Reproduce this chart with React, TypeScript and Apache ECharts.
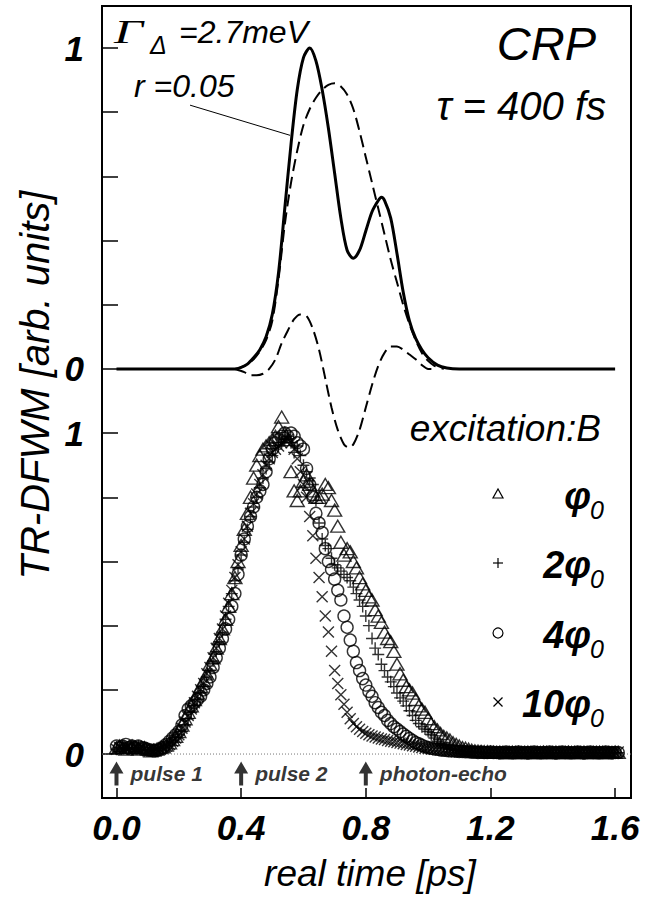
import React, { useEffect, useRef } from "react";
import * as echarts from "echarts";

// ---------- data ----------
// sampling grid of the measured traces (ps)
const T_START = 0.0;
const T_STEP = 0.01;

// measured TR-DFWM traces (bottom panel), one value per grid time
const PHI_1 = [
  0.02, 0.025, 0.02, 0.015, 0.02, 0.025, 0.02, 0.015, 0.02, 0.02,
  0.015, 0.01, 0.012, 0.015, 0.02, 0.022, 0.028, 0.035, 0.045, 0.055,
  0.07, 0.09, 0.11, 0.13, 0.15, 0.17, 0.19, 0.21, 0.23, 0.25,
  0.28, 0.3, 0.33, 0.36, 0.39, 0.42, 0.46, 0.5, 0.55, 0.6,
  0.65, 0.7, 0.75, 0.8, 0.86, 0.9, 0.93, 0.95, 0.96, 0.97,
  0.98, 0.99, 1.02, 1.05, 1.0, 0.98, 0.88, 0.82, 0.79, 0.82,
  0.85, 0.87, 0.84, 0.82, 0.8, 0.8, 0.81, 0.84, 0.83, 0.79,
  0.76, 0.71, 0.66, 0.62, 0.64, 0.63, 0.6, 0.58, 0.55, 0.53,
  0.51, 0.49, 0.48, 0.45, 0.43, 0.41, 0.38, 0.36, 0.35, 0.32,
  0.28, 0.25, 0.23, 0.21, 0.2, 0.19, 0.17, 0.15, 0.14, 0.13,
  0.11, 0.095, 0.085, 0.075, 0.064, 0.055, 0.05, 0.044, 0.035, 0.03,
  0.025, 0.02, 0.018, 0.015, 0.012, 0.01, 0.009, 0.008, 0.007, 0.007,
  0.006, 0.006, 0.005, 0.006, 0.005, 0.004, 0.005, 0.006, 0.005, 0.005,
  0.004, 0.005, 0.006, 0.005, 0.004, 0.005, 0.005, 0.006, 0.005, 0.004,
  0.005, 0.006, 0.005, 0.004, 0.005, 0.006, 0.005, 0.005, 0.004, 0.005,
  0.006, 0.005, 0.004, 0.005, 0.005, 0.006, 0.005, 0.004, 0.005, 0.005,
  0.006, 0.005,
];
const PHI_2 = [
  0.015, 0.02, 0.025, 0.02, 0.015, 0.02, 0.02, 0.025, 0.015, 0.02,
  0.012, 0.01, 0.015, 0.012, 0.018, 0.02, 0.025, 0.03, 0.04, 0.05,
  0.06, 0.07, 0.09, 0.11, 0.13, 0.15, 0.17, 0.19, 0.21, 0.24,
  0.26, 0.29, 0.32, 0.35, 0.38, 0.42, 0.46, 0.5, 0.54, 0.58,
  0.62, 0.66, 0.7, 0.74, 0.77, 0.8, 0.83, 0.86, 0.89, 0.91,
  0.93, 0.95, 0.96, 0.97, 0.98, 0.99, 0.97, 0.94, 0.96, 0.93,
  0.9, 0.88, 0.86, 0.84, 0.79, 0.72, 0.67, 0.65, 0.64, 0.61,
  0.59, 0.58, 0.57, 0.56, 0.55, 0.54, 0.52, 0.5, 0.48, 0.46,
  0.43, 0.4, 0.36, 0.33, 0.31, 0.28, 0.26, 0.24, 0.225, 0.21,
  0.19, 0.175, 0.165, 0.15, 0.135, 0.12, 0.105, 0.095, 0.085, 0.078,
  0.07, 0.06, 0.05, 0.04, 0.032, 0.025, 0.02, 0.016, 0.013, 0.011,
  0.009, 0.008, 0.007, 0.007, 0.006, 0.006, 0.005, 0.006, 0.005, 0.005,
  0.005, 0.004, 0.005, 0.006, 0.005, 0.004, 0.005, 0.005, 0.006, 0.005,
  0.005, 0.004, 0.005, 0.006, 0.005, 0.005, 0.004, 0.005, 0.006, 0.005,
  0.004, 0.005, 0.005, 0.006, 0.005, 0.004, 0.005, 0.005, 0.006, 0.005,
  0.005, 0.004, 0.005, 0.006, 0.005, 0.005, 0.004, 0.005, 0.006, 0.005,
  0.005, 0.004,
];
const PHI_4 = [
  0.025, 0.02, 0.025, 0.03, 0.02, 0.025, 0.02, 0.025, 0.02, 0.018,
  0.015, 0.012, 0.01, 0.012, 0.015, 0.02, 0.03, 0.04, 0.05, 0.06,
  0.07, 0.09, 0.12, 0.14, 0.15, 0.16, 0.17, 0.18, 0.2, 0.22,
  0.24, 0.27, 0.3, 0.33, 0.36, 0.39, 0.42, 0.46, 0.5, 0.56,
  0.62, 0.67, 0.71, 0.74, 0.77, 0.8, 0.82, 0.84, 0.88, 0.92,
  0.95, 0.97, 0.98, 0.99, 1.0, 0.99, 1.0, 0.99, 0.97, 0.96,
  0.95, 0.89, 0.84, 0.8, 0.75, 0.72, 0.69, 0.64, 0.6, 0.575,
  0.545, 0.51, 0.48, 0.43, 0.395, 0.355, 0.32, 0.285, 0.26, 0.235,
  0.215, 0.195, 0.18, 0.16, 0.145, 0.13, 0.12, 0.105, 0.095, 0.085,
  0.078, 0.07, 0.062, 0.055, 0.048, 0.042, 0.036, 0.032, 0.027, 0.023,
  0.02, 0.018, 0.016, 0.015, 0.013, 0.012, 0.011, 0.01, 0.01, 0.009,
  0.008, 0.008, 0.007, 0.007, 0.006, 0.006, 0.005, 0.006, 0.005, 0.005,
  0.006, 0.005, 0.005, 0.004, 0.005, 0.006, 0.005, 0.004, 0.005, 0.006,
  0.005, 0.005, 0.004, 0.005, 0.006, 0.005, 0.004, 0.005, 0.005, 0.006,
  0.005, 0.004, 0.005, 0.006, 0.005, 0.005, 0.004, 0.005, 0.006, 0.005,
  0.004, 0.005, 0.006, 0.005, 0.005, 0.004, 0.005, 0.006, 0.005, 0.004,
  0.005, 0.005,
];
const PHI_10 = [
  0.015, 0.02, 0.015, 0.02, 0.025, 0.015, 0.02, 0.015, 0.02, 0.015,
  0.01, 0.012, 0.01, 0.015, 0.015, 0.02, 0.025, 0.03, 0.04, 0.05,
  0.06, 0.08, 0.1, 0.12, 0.14, 0.16, 0.18, 0.2, 0.22, 0.25,
  0.27, 0.3, 0.33, 0.36, 0.39, 0.43, 0.47, 0.51, 0.55, 0.59,
  0.63, 0.67, 0.71, 0.75, 0.78, 0.81, 0.84, 0.87, 0.9, 0.92,
  0.94, 0.95, 0.96, 0.97, 0.98, 0.98, 0.97, 0.95, 0.92, 0.88,
  0.84, 0.8, 0.74, 0.68, 0.61, 0.55, 0.49, 0.43, 0.38, 0.32,
  0.26, 0.22, 0.185, 0.155, 0.13, 0.11, 0.095, 0.085, 0.077, 0.07,
  0.065, 0.06, 0.056, 0.053, 0.05, 0.047, 0.045, 0.042, 0.04, 0.038,
  0.036, 0.034, 0.032, 0.03, 0.028, 0.026, 0.024, 0.022, 0.02, 0.018,
  0.017, 0.016, 0.015, 0.014, 0.013, 0.012, 0.011, 0.01, 0.009, 0.009,
  0.008, 0.008, 0.007, 0.007, 0.006, 0.006, 0.006, 0.005, 0.005, 0.005,
  0.005, 0.006, 0.005, 0.004, 0.005, 0.005, 0.006, 0.005, 0.004, 0.005,
  0.006, 0.005, 0.005, 0.004, 0.005, 0.006, 0.005, 0.005, 0.004, 0.005,
  0.005, 0.006, 0.005, 0.004, 0.005, 0.005, 0.006, 0.005, 0.004, 0.005,
  0.006, 0.005, 0.005, 0.004, 0.005, 0.006, 0.005, 0.005, 0.004, 0.005,
  0.005, 0.006,
];
const SERIES_NAMES = ["φ0", "2φ0", "4φ0", "10φ0"];

// calculated curves (top panel), in the top panel's own units
const SOLID_T = [0.0, 0.38, 0.4, 0.42, 0.44, 0.46, 0.48, 0.5, 0.52, 0.54, 0.56, 0.58, 0.6, 0.62, 0.64, 0.66, 0.68, 0.7, 0.72, 0.74, 0.76, 0.78, 0.8, 0.82, 0.84, 0.85, 0.86, 0.88, 0.9, 0.92, 0.94, 0.96, 0.98, 1.0, 1.03, 1.06, 1.1, 1.6];
const SOLID_V = [0, 0, 0.005, 0.015, 0.035, 0.06, 0.1, 0.17, 0.3, 0.5, 0.7, 0.87, 0.97, 1.0, 0.96, 0.87, 0.75, 0.61, 0.47, 0.37, 0.345, 0.37, 0.43, 0.49, 0.525, 0.535, 0.525, 0.47, 0.36, 0.24, 0.15, 0.095, 0.06, 0.035, 0.012, 0.003, 0, 0];
const DASH_UP_T = [0.38, 0.4, 0.42, 0.44, 0.46, 0.48, 0.5, 0.52, 0.54, 0.56, 0.58, 0.6, 0.62, 0.64, 0.66, 0.68, 0.7, 0.72, 0.74, 0.76, 0.78, 0.8, 0.82, 0.84, 0.86, 0.88, 0.9, 0.92, 0.94, 0.96, 0.98, 1.0, 1.02, 1.05];
const DASH_UP_V = [0, 0.005, 0.015, 0.03, 0.055, 0.09, 0.15, 0.28, 0.45, 0.58, 0.68, 0.76, 0.81, 0.845, 0.87, 0.885, 0.89, 0.88, 0.855, 0.81, 0.74, 0.66, 0.58, 0.5, 0.42, 0.34, 0.27, 0.2, 0.14, 0.09, 0.05, 0.025, 0.01, 0];
const DASH_LO_T = [0.38, 0.41, 0.43, 0.45, 0.47, 0.49, 0.51, 0.53, 0.55, 0.57, 0.59, 0.61, 0.63, 0.65, 0.67, 0.69, 0.71, 0.73, 0.745, 0.76, 0.78, 0.8, 0.82, 0.84, 0.86, 0.88, 0.9, 0.92, 0.94, 0.96, 0.98, 1.0, 1.03];
const DASH_LO_V = [0, -0.01, -0.02, -0.02, -0.015, 0, 0.03, 0.08, 0.12, 0.155, 0.17, 0.165, 0.125, 0.06, -0.03, -0.12, -0.19, -0.235, -0.245, -0.235, -0.19, -0.12, -0.05, 0.01, 0.05, 0.07, 0.07, 0.06, 0.045, 0.03, 0.012, 0, 0];
const TOP_OFFSET = 1.2; // the top panel's zero sits 1.2 units above the bottom panel's zero
const LEADER_START = [0.236, 0.822];
const LEADER_END = [0.557, 0.728];

// axes
const X_MIN = -0.0465;
const X_MAX = 1.651;
const Y_MIN = -0.137;
const Y_MAX = 2.331;
const X_TICKS = [0, 0.4, 0.8, 1.2, 1.6];
const Y_TICKS = [0, 0.2, 0.4, 0.6, 0.8, 1.0, 1.2, 1.4, 1.6, 1.8, 2.0, 2.2];
const Y_LABEL_VALUES = [0, 1.0, 1.2, 2.2];
const Y_LABEL_TEXT = ["0", "1", "0", "1"];

// pulse markers
const PULSE_T = [0, 0.4, 0.8];
const PULSE_LABELS = ["pulse 1", "pulse 2", "photon-echo"];
const ARROW_Y = -0.061;

const FONT = '"Liberation Sans", Arial, Helvetica, sans-serif';
const SERIF = '"Liberation Serif", "Times New Roman", serif';

const toGrid = (vals: number[]) =>
  vals.map((v, i) => [Number((T_START + i * T_STEP).toFixed(2)), v]);
const toTop = (ts: number[], vs: number[]) => ts.map((t, i) => [t, vs[i] + TOP_OFFSET]);

const ARROW_PATH = "path://M7,0L14,12L9,12L9,24L5,24L5,12L0,12Z";
const PLUS_PATH = "path://M5,0L5,10M0,5L10,5";
const CROSS_PATH = "path://M0,0L10,10M0,10L10,0";

function txt(text: string, x: number, y: number, font: string, align = "left", extra: any = {}) {
  return {
    type: "text",
    x,
    y,
    silent: true,
    ...extra,
    style: { text, font, fill: "#000", textAlign: align, textVerticalAlign: "middle" },
  };
}

export default function App() {
  const ref = useRef<HTMLDivElement>(null);

  useEffect(() => {
    document.body.style.margin = "0";
    const chart = echarts.init(ref.current!, null, { renderer: "svg" });

    const hollow = { color: "transparent", borderColor: "#000", borderWidth: 1.4 };
    const markerSeries = [
      { data: PHI_1, symbol: "triangle", size: [14, 12] },
      { data: PHI_2, symbol: PLUS_PATH, size: 12 },
      { data: PHI_4, symbol: "circle", size: 12 },
      { data: PHI_10, symbol: CROSS_PATH, size: 11 },
    ].map((s, i) => ({
      type: "scatter",
      name: SERIES_NAMES[i],
      data: toGrid(s.data),
      symbol: s.symbol,
      symbolSize: s.size,
      itemStyle: hollow,
      z: 3,
    }));

    const legendRows = [494, 563, 633, 702];
    const legendMain = ["φ", "2φ", "4φ", "10φ"];
    const graphics: any[] = [
      // annotations
      txt("Γ", 114, 31.5, `italic 34px ${SERIF}`, "left", { scaleX: 1.5 }),
      txt("Δ", 150, 45, `italic 25px ${FONT}`),
      txt("=2.7meV", 179, 31.5, `italic 32px ${FONT}`),
      txt("r =0.05", 134, 86, `italic 32px ${FONT}`),
      txt("CRP", 596, 43, `italic 47px ${FONT}`, "right"),
      txt("τ = 400 fs", 606, 106, `italic 40px ${FONT}`, "right"),
      txt("excitation:B", 601, 428, `italic 37px ${FONT}`, "right"),
      // legend markers
      {
        type: "polygon",
        shape: { points: [[493, 498], [503, 498], [498, 489]] },
        style: { fill: "none", stroke: "#000", lineWidth: 1.2 },
      },
      { type: "line", shape: { x1: 493, y1: 563, x2: 503, y2: 563 }, style: { stroke: "#000", lineWidth: 1.2 } },
      { type: "line", shape: { x1: 498, y1: 558, x2: 498, y2: 568 }, style: { stroke: "#000", lineWidth: 1.2 } },
      { type: "circle", shape: { cx: 498, cy: 633, r: 5 }, style: { fill: "none", stroke: "#000", lineWidth: 1.2 } },
      { type: "line", shape: { x1: 493.5, y1: 697.5, x2: 502.5, y2: 706.5 }, style: { stroke: "#000", lineWidth: 1.2 } },
      { type: "line", shape: { x1: 493.5, y1: 706.5, x2: 502.5, y2: 697.5 }, style: { stroke: "#000", lineWidth: 1.2 } },
    ];
    legendRows.forEach((y, i) => {
      graphics.push(txt(legendMain[i], 591, y + 2, `italic bold 38px ${FONT}`, "right"));
      graphics.push(txt("0", 590, y + 16, `italic 25px ${FONT}`));
    });
    // axis title (vertical)
    graphics.push({
      type: "text",
      x: 35,
      y: 385,
      rotation: Math.PI / 2,
      silent: true,
      style: {
        text: "TR-DFWM [arb. units]",
        font: `italic 40px ${FONT}`,
        fill: "#000",
        textAlign: "center",
        textVerticalAlign: "middle",
      },
    });

    const option: any = {
      animation: false,
      backgroundColor: "#fff",
      grid: {
        left: 102,
        top: 6,
        right: 26,
        bottom: 100,
        show: true,
        borderColor: "#000",
        borderWidth: 2,
        backgroundColor: "transparent",
      },
      xAxis: {
        type: "value",
        min: X_MIN,
        max: X_MAX,
        axisLine: { show: false, onZero: false },
        axisTick: {
          show: true,
          inside: true,
          length: 10,
          customValues: X_TICKS,
          lineStyle: { color: "#000", width: 1.5 },
        },
        axisLabel: {
          customValues: X_TICKS,
          formatter: (v: number) => v.toFixed(1),
          fontSize: 35,
          fontStyle: "italic",
          fontWeight: "bold",
          fontFamily: FONT,
          color: "#000",
          margin: 12,
        },
        splitLine: { show: false },
        name: "real time [ps]",
        nameLocation: "middle",
        nameGap: 57,
        nameTextStyle: {
          fontSize: 37,
          fontStyle: "italic",
          fontFamily: FONT,
          color: "#000",
          padding: [0, 0, 0, 7],
        },
      },
      yAxis: {
        type: "value",
        min: Y_MIN,
        max: Y_MAX,
        axisLine: { show: false, onZero: false },
        axisTick: {
          show: true,
          inside: true,
          length: 16,
          customValues: Y_TICKS,
          lineStyle: { color: "#000", width: 1.5 },
        },
        axisLabel: {
          customValues: Y_LABEL_VALUES,
          formatter: (v: number) => {
            let best = 0;
            Y_LABEL_VALUES.forEach((c, i) => {
              if (Math.abs(c - v) < Math.abs(Y_LABEL_VALUES[best] - v)) best = i;
            });
            return Y_LABEL_TEXT[best];
          },
          fontSize: 35,
          fontStyle: "italic",
          fontWeight: "bold",
          fontFamily: FONT,
          color: "#000",
          margin: 18,
        },
        splitLine: { show: false },
      },
      graphic: graphics,
      series: [
        {
          type: "line",
          name: "baseline",
          data: [[X_MIN, 0], [X_MAX, 0]],
          showSymbol: false,
          lineStyle: { color: "#777", width: 1, type: [1, 2] },
          z: 1,
          silent: true,
        },
        ...markerSeries,
        {
          type: "line",
          name: "solid",
          data: toTop(SOLID_T, SOLID_V),
          showSymbol: false,
          smooth: 0.3,
          lineStyle: { color: "#000", width: 3 },
          z: 4,
          markLine: {
            silent: true,
            symbol: ["none", "none"],
            label: { show: false },
            lineStyle: { color: "#000", width: 1, type: "solid" },
            data: [
              [
                { coord: [LEADER_START[0], LEADER_START[1] + TOP_OFFSET] },
                { coord: [LEADER_END[0], LEADER_END[1] + TOP_OFFSET] },
              ],
            ],
          },
        },
        {
          type: "line",
          name: "dashed upper",
          data: toTop(DASH_UP_T, DASH_UP_V),
          showSymbol: false,
          smooth: 0.3,
          lineStyle: { color: "#000", width: 2, type: [12, 6] },
          z: 4,
        },
        {
          type: "line",
          name: "dashed lower",
          data: toTop(DASH_LO_T, DASH_LO_V),
          showSymbol: false,
          smooth: 0.3,
          lineStyle: { color: "#000", width: 2, type: [12, 6] },
          z: 4,
        },
        {
          type: "scatter",
          name: "pulses",
          data: PULSE_T.map((t, i) => ({ name: PULSE_LABELS[i], value: [t, ARROW_Y] })),
          symbol: ARROW_PATH,
          symbolSize: [14, 24],
          itemStyle: { color: "#000" },
          label: {
            show: true,
            position: "right",
            distance: 7,
            formatter: "{b}",
            fontSize: 21,
            fontStyle: "italic",
            fontWeight: "bold",
            fontFamily: FONT,
            color: "#000",
          },
          z: 5,
        },
      ],
    };

    chart.setOption(option);
    return () => chart.dispose();
  }, []);

  return <div ref={ref} style={{ width: 657, height: 898 }} />;
}
